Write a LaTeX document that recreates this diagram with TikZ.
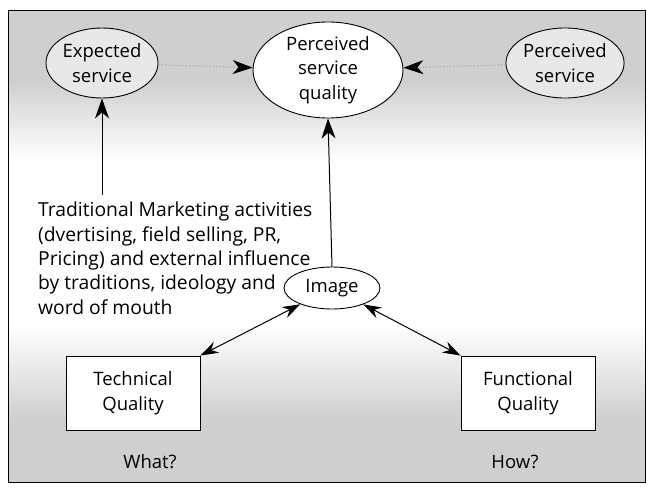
\documentclass[tikz,border=0pt]{standalone}
\usepackage{fontspec}
\setmainfont{Open Sans}
\usetikzlibrary{arrows.meta,shapes.geometric}
\begin{document}
\begin{tikzpicture}[x=1pt,y=-1pt,
  ell/.style={ellipse, draw=black, line width=0.9pt, align=center, inner sep=0pt, font=\fontsize{18.5}{24.5}\selectfont},
  box/.style={rectangle, draw=black, line width=0.9pt, fill=white, align=center, minimum width=134, minimum height=74, font=\fontsize{18.5}{24.5}\selectfont},
  tip/.style={-{Stealth[length=20pt,width=14pt,inset=6pt,black]}},
  dtip/.style={{Stealth[length=18pt,width=12pt,inset=6pt,black]}-{Stealth[length=18pt,width=12pt,inset=6pt,black]}},
  lbl/.style={font=\fontsize{18.5}{22}\selectfont}]
\useasboundingbox (0,0) rectangle (653,489);
% background
\fill[white] (0,0) rectangle (653,489);
\fill[gray!38] (8,10) rectangle (645,80);
\shade[top color=gray!38, bottom color=white] (8,80) rectangle (645,160);
\shade[top color=white, bottom color=gray!38] (8,325) rectangle (645,420);
\fill[gray!38] (8,420) rectangle (645,482);
\draw[line width=0.8pt] (8,10) rectangle (645,482);
% nodes
\node[ell, fill=gray!18, minimum width=112, minimum height=70] (exp) at (102,63) {Expected\\service};
\node[ell, fill=white, minimum width=150, minimum height=96] (psq) at (328,70) {Perceived\\service\\quality};
\node[ell, fill=gray!18, minimum width=112, minimum height=70] (ps) at (565,63) {Perceived\\service};
\node[ell, fill=white, minimum width=96, minimum height=42] (img) at (332,288) {Image};
\node[box] (tq) at (133,393) {Technical\\Quality};
\node[box] (fq) at (528,393) {Functional\\Quality};
\node[anchor=north west, align=left, inner sep=0pt, font=\fontsize{19.3}{24.3}\selectfont] (trad) at (38,202) {Traditional Marketing activities\\(dvertising, field selling, PR,\\Pricing) and external influence\\by traditions, ideology and\\word of mouth};
\node[lbl] (what) at (150,462) {What?};
\node[lbl] (how) at (515,462) {How?};
\coordinate (c1) at (102,195);
% connectors
\draw[tip, gray!60, dotted, line width=1.4pt] (exp) -- (psq);
\draw[tip, gray!60, dotted, line width=1.4pt] (ps) -- (psq);
\draw[tip, line width=1pt] (c1) -- (exp.south);
\draw[tip, line width=1pt] (img.north) -- (psq.south);
\draw[dtip, line width=1pt] (img) -- (tq.north east);
\draw[dtip, line width=1pt] (img) -- (fq.north west);
\end{tikzpicture}
\end{document}
